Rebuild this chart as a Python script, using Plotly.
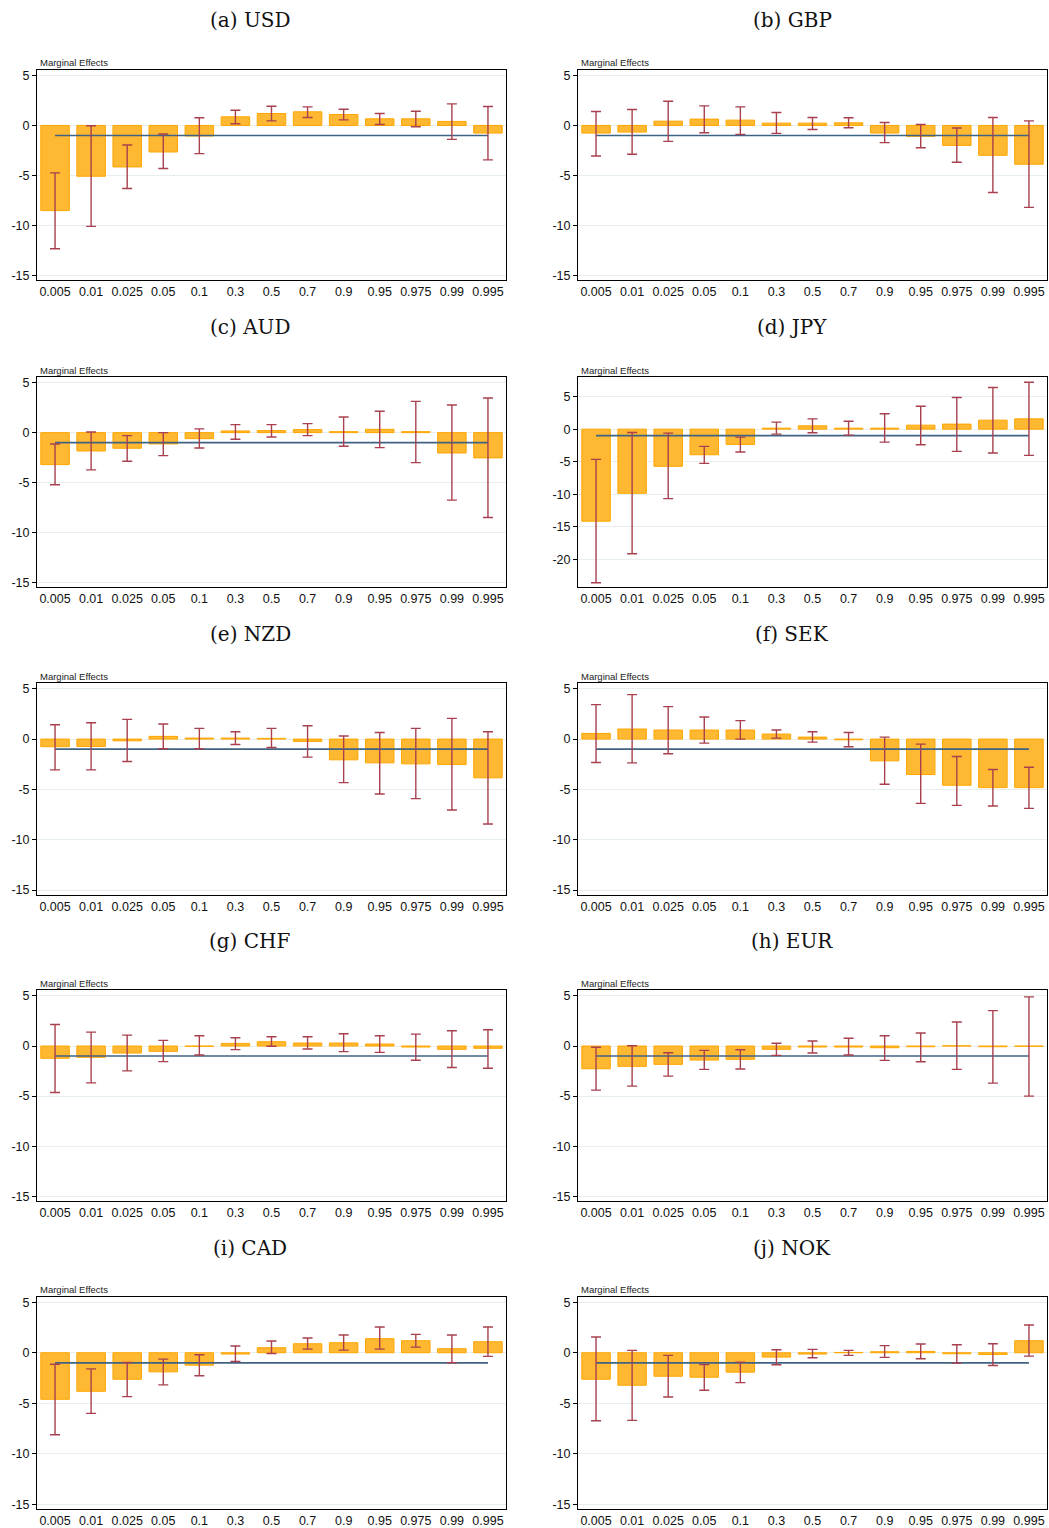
import plotly.graph_objects as go

quantiles = ["0.005", "0.01", "0.025", "0.05", "0.1", "0.3", "0.5", "0.7", "0.9", "0.95", "0.975", "0.99", "0.995"]
titles = ["(a) USD", "(b) GBP", "(c) AUD", "(d) JPY", "(e) NZD", "(f) SEK", "(g) CHF", "(h) EUR", "(i) CAD", "(j) NOK"]
reference_level = -1.0

usd_val = [-8.5, -5.07, -4.14, -2.65, -1.06, 0.86, 1.19, 1.36, 1.09, 0.66, 0.66, 0.4, -0.76]
usd_hi = [-4.73, -0.03, -1.95, -0.86, 0.76, 1.52, 1.92, 1.85, 1.62, 1.19, 1.42, 2.15, 1.89]
usd_lo = [-12.3, -10.07, -6.29, -4.3, -2.81, 0.17, 0.46, 0.79, 0.56, 0.1, -0.13, -1.39, -3.44]

gbp_val = [-0.76, -0.66, 0.43, 0.63, 0.53, 0.23, 0.23, 0.26, -0.76, -1.09, -1.99, -2.98, -3.87]
gbp_hi = [1.39, 1.59, 2.42, 1.95, 1.85, 1.29, 0.79, 0.76, 0.3, 0.1, -0.26, 0.79, 0.46]
gbp_lo = [-3.05, -2.88, -1.59, -0.73, -0.89, -0.79, -0.4, -0.23, -1.72, -2.22, -3.68, -6.69, -8.18]

aud_val = [-3.19, -1.83, -1.56, -1.13, -0.6, 0.17, 0.2, 0.3, 0.1, 0.33, 0.1, -2.03, -2.52]
aud_hi = [-1.13, 0.07, -0.3, 0.0, 0.37, 0.8, 0.8, 0.9, 1.56, 2.13, 3.12, 2.76, 3.46]
aud_lo = [-5.2, -3.72, -2.86, -2.29, -1.53, -0.66, -0.43, -0.3, -1.36, -1.5, -2.99, -6.74, -8.47]

jpy_val = [-14.13, -9.85, -5.71, -3.93, -2.35, 0.15, 0.51, 0.15, 0.15, 0.61, 0.77, 1.38, 1.58]
jpy_hi = [-4.64, -0.51, -0.61, -2.65, -1.22, 1.07, 1.58, 1.22, 2.35, 3.52, 4.85, 6.38, 7.19]
jpy_lo = [-23.57, -19.13, -10.66, -5.26, -3.52, -0.77, -0.56, -0.92, -1.99, -2.4, -3.42, -3.67, -4.03]

nzd_val = [-0.76, -0.73, -0.17, 0.27, 0.1, 0.1, 0.07, -0.23, -2.06, -2.36, -2.46, -2.52, -3.85]
nzd_hi = [1.43, 1.63, 1.96, 1.5, 1.06, 0.73, 1.06, 1.33, 0.3, 0.66, 1.06, 2.06, 0.73]
nzd_lo = [-3.06, -3.06, -2.23, -0.96, -0.96, -0.53, -0.83, -1.79, -4.32, -5.45, -5.91, -7.04, -8.44]

sek_val = [0.56, 1.0, 0.9, 0.9, 0.9, 0.5, 0.2, -0.07, -2.16, -3.52, -4.58, -4.82, -4.82]
sek_hi = [3.42, 4.42, 3.22, 2.19, 1.83, 0.9, 0.73, 0.66, 0.2, -0.5, -1.73, -3.02, -2.79]
sek_lo = [-2.33, -2.36, -1.46, -0.4, 0.0, 0.1, -0.3, -0.76, -4.49, -6.38, -6.58, -6.64, -6.88]

chf_val = [-1.23, -1.13, -0.7, -0.53, -0.03, 0.26, 0.43, 0.3, 0.3, 0.2, -0.1, -0.33, -0.23]
chf_hi = [2.15, 1.39, 1.09, 0.56, 1.03, 0.83, 0.93, 0.93, 1.23, 1.03, 1.19, 1.52, 1.62]
chf_lo = [-4.64, -3.68, -2.48, -1.56, -0.89, -0.36, -0.03, -0.3, -0.56, -0.63, -1.42, -2.15, -2.22]

eur_val = [-2.27, -2.03, -1.83, -1.4, -1.33, -0.33, -0.1, -0.1, -0.17, -0.07, 0.02, -0.07, -0.03]
eur_hi = [-0.13, 0.03, -0.67, -0.43, -0.37, 0.27, 0.5, 0.77, 1.03, 1.3, 2.4, 3.53, 4.9]
eur_lo = [-4.4, -4.0, -3.0, -2.33, -2.3, -0.93, -0.7, -0.9, -1.43, -1.57, -2.33, -3.7, -5.0]

cad_val = [-4.6, -3.81, -2.62, -1.89, -1.23, -0.13, 0.5, 0.89, 0.99, 1.39, 1.19, 0.4, 1.09]
cad_hi = [-1.13, -1.59, -0.96, -0.63, -0.2, 0.66, 1.16, 1.46, 1.75, 2.55, 1.82, 1.75, 2.55]
cad_lo = [-8.11, -5.99, -4.34, -3.18, -2.28, -0.86, -0.07, 0.36, 0.26, 0.36, 0.56, -0.99, -0.36]

nok_val = [-2.62, -3.21, -2.32, -2.42, -1.92, -0.43, -0.13, 0.03, 0.1, 0.13, -0.1, -0.17, 1.19]
nok_hi = [1.56, 0.23, -0.26, -1.16, -0.93, 0.3, 0.33, 0.23, 0.7, 0.86, 0.79, 0.89, 2.75]
nok_lo = [-6.72, -6.69, -4.37, -3.71, -2.95, -1.19, -0.5, -0.26, -0.46, -0.6, -1.03, -1.26, -0.33]

panels = [
    (usd_val, usd_lo, usd_hi), (gbp_val, gbp_lo, gbp_hi),
    (aud_val, aud_lo, aud_hi), (jpy_val, jpy_lo, jpy_hi),
    (nzd_val, nzd_lo, nzd_hi), (sek_val, sek_lo, sek_hi),
    (chf_val, chf_lo, chf_hi), (eur_val, eur_lo, eur_hi),
    (cad_val, cad_lo, cad_hi), (nok_val, nok_lo, nok_hi),
]

W, H = 1049, 1528
col_x = [(37, 506), (578, 1047)]
row_y = [(69, 280), (377, 588), (684, 896), (992, 1203), (1299, 1512)]
title_y = [19, 327, 635, 942, 1250]
title_x = [250, 792]

BAR_FILL = "rgba(255,184,50,1)"
BAR_LINE = "#FFA600"
ERR_COL = "#a8404f"
LINE_COL = "#3f6383"
TICK_FONT = dict(family="Liberation Sans, Arial, sans-serif", size=12.5, color="#111")

fig = go.Figure()
annotations = []

for i, (vals, lo, hi) in enumerate(panels):
    r, c = divmod(i, 2)
    n = i + 1
    xa = "x" if n == 1 else f"x{n}"
    ya = "y" if n == 1 else f"y{n}"
    fig.add_trace(go.Bar(
        x=quantiles, y=vals, xaxis=xa, yaxis=ya,
        marker=dict(color=BAR_FILL, line=dict(color=BAR_LINE, width=1)),
        width=0.79, showlegend=False,
    ))
    fig.add_trace(go.Scatter(
        x=[quantiles[0], quantiles[-1]], y=[reference_level, reference_level],
        xaxis=xa, yaxis=ya, mode="lines",
        line=dict(color=LINE_COL, width=1.6), showlegend=False,
    ))
    fig.add_trace(go.Scatter(
        x=quantiles, y=vals, xaxis=xa, yaxis=ya, mode="markers",
        marker=dict(size=1, color="rgba(0,0,0,0)"),
        error_y=dict(type="data", symmetric=False,
                     array=[h - v for h, v in zip(hi, vals)],
                     arrayminus=[v - l for v, l in zip(vals, lo)],
                     color=ERR_COL, thickness=1.4, width=5),
        showlegend=False,
    ))
    x0, x1 = col_x[c]
    y0, y1 = row_y[r]
    if titles[i].endswith("JPY"):
        yrange = [-24.3, 8.0]
        tv = [-20, -15, -10, -5, 0, 5]
    else:
        yrange = [-15.45, 5.55]
        tv = [-15, -10, -5, 0, 5]
    axis_common = dict(showline=True, linecolor="black", linewidth=1, mirror=True)
    fig.layout[("xaxis" if n == 1 else f"xaxis{n}")] = dict(
        domain=[x0 / W, x1 / W], anchor=ya, type="category",
        range=[-0.5, 12.5], showgrid=False, ticks="", tickfont=TICK_FONT,
        ticklabelstandoff=0, **axis_common)
    fig.layout[("yaxis" if n == 1 else f"yaxis{n}")] = dict(
        domain=[1 - y1 / H, 1 - y0 / H], anchor=xa, range=yrange,
        tickvals=tv, ticktext=[str(t) for t in tv], showgrid=True,
        gridcolor="#e6eeee", gridwidth=1, zeroline=False,
        ticks="outside", ticklen=4, tickcolor="black", tickfont=TICK_FONT,
        **axis_common)
    annotations.append(dict(
        text=titles[i], x=title_x[c] / W, y=1 - title_y[r] / H,
        xref="paper", yref="paper", showarrow=False,
        xanchor="center", yanchor="middle",
        font=dict(family="DejaVu Serif, Liberation Serif, serif", size=20, color="#111")))
    annotations.append(dict(
        text="Marginal Effects", x=(x0 + 1) / W, y=1 - (y0 - 7) / H,
        xref="paper", yref="paper", showarrow=False,
        xanchor="left", yanchor="middle",
        font=dict(family="Liberation Sans, Arial, sans-serif", size=9.5, color="#222")))

fig.update_layout(
    width=W, height=H, margin=dict(l=0, r=0, t=0, b=0),
    paper_bgcolor="white", plot_bgcolor="white",
    annotations=annotations, bargap=0.2,
)

fig.write_html(
    "out.html",
    config={"displayModeBar": False},
    post_script="document.body.style.margin='0';document.body.style.padding='0';"
                "document.documentElement.style.overflow='hidden';document.body.style.overflow='hidden';",
)
